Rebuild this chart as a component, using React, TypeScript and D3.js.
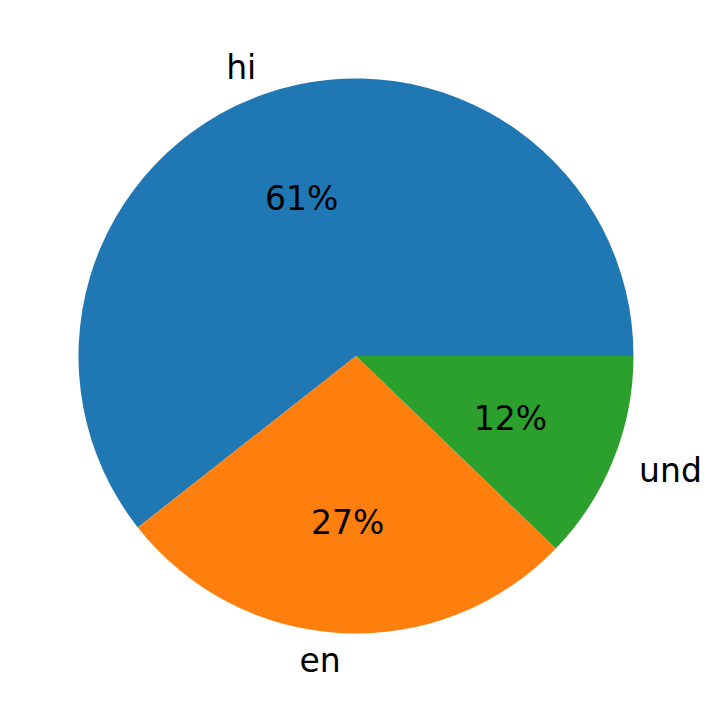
import React from "react";
import * as d3 from "d3";

const labels = ["hi", "en", "und"];
const values = [60.6, 27.2, 12.2];
const colors = ["#1f77b4", "#ff7f0e", "#2ca02c"];

export default function App() {
  const W = 715, H = 713;
  const cx = 356, cy = 356, R = 277.5;
  const total = d3.sum(values);
  // matplotlib: start at 0 rad (3 o'clock), counterclockwise
  let acc = 0;
  const slices = values.map((v, i) => {
    const a0 = (acc / total) * 2 * Math.PI;
    acc += v;
    const a1 = (acc / total) * 2 * Math.PI;
    return { i, a0, a1, v };
  });
  // convert math angle (ccw from +x) to d3 arc angle (cw from 12 o'clock)
  const toD3 = (a: number) => Math.PI / 2 - a;
  const arc = d3.arc<any>().innerRadius(0).outerRadius(R);
  return (
    <svg width={W} height={H} style={{ position: "absolute", left: 0, top: 0 }}>
      <rect width={W} height={H} fill="#fff" />
      <g transform={`translate(${cx},${cy})`}>
        {slices.map((s) => (
          <path
            key={s.i}
            d={arc({ startAngle: toD3(s.a1), endAngle: toD3(s.a0) }) as string}
            fill={colors[s.i]}
          />
        ))}
        {slices.map((s) => {
          const m = (s.a0 + s.a1) / 2;
          const lx = 1.1 * R * Math.cos(m);
          const ly = -1.1 * R * Math.sin(m);
          const px = 0.6 * R * Math.cos(m);
          const py = -0.6 * R * Math.sin(m);
          return (
            <g key={"t" + s.i} fontFamily="DejaVu Sans" fontSize={33}>
              <text x={lx} y={ly} textAnchor={lx < 0 ? "end" : "start"} dominantBaseline="central" fill="#000">
                {labels[s.i]}
              </text>
              <text x={px} y={py} textAnchor="middle" dominantBaseline="central" fill="#000">
                {Math.round((s.v / total) * 100) + "%"}
              </text>
            </g>
          );
        })}
      </g>
    </svg>
  );
}
